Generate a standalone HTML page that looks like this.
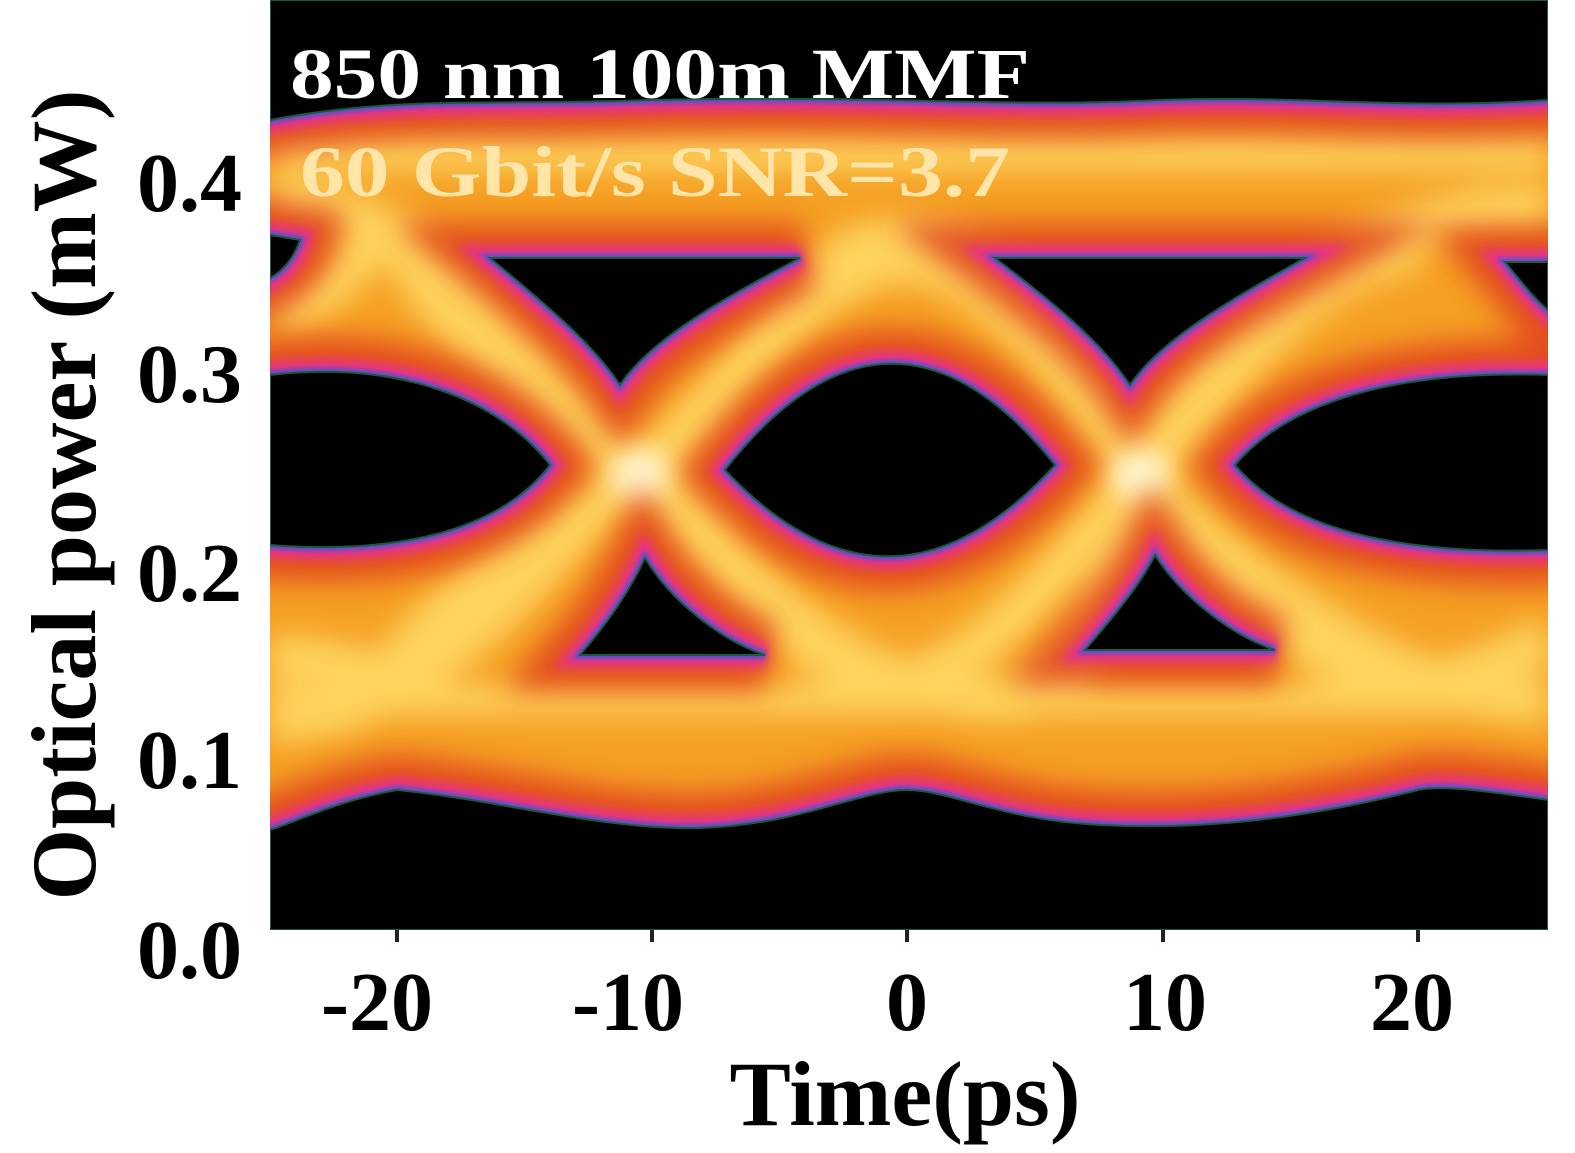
<!DOCTYPE html>
<html><head><meta charset="utf-8"><style>
html,body{margin:0;padding:0;background:#fff;}
svg{display:block;}
text{font-family:"Liberation Serif",serif;font-weight:bold;}
</style></head><body>
<svg width="1575" height="1153" viewBox="0 0 1575 1153" xmlns="http://www.w3.org/2000/svg">
<defs>
<filter id="b1" x="-20%" y="-20%" width="140%" height="140%"><feGaussianBlur stdDeviation="14"/></filter>
<filter id="b2" x="-20%" y="-20%" width="140%" height="140%"><feGaussianBlur stdDeviation="5"/></filter>
<filter id="b3" x="-20%" y="-20%" width="140%" height="140%"><feGaussianBlur stdDeviation="2"/></filter>
<filter id="b4" x="-50%" y="-50%" width="200%" height="200%"><feGaussianBlur stdDeviation="12"/></filter>
<clipPath id="pc"><rect x="270" y="0" width="1278" height="930"/></clipPath>
<g id="shapes">
<path d="M270,0 L1548,0 L1548,100 C1400,110 1300,95 1160,100 C1000,108 900,95 650,100 C500,106 400,95 270,120 Z"/>
<path d="M270,930 L1548,930 L1548,800 C1480,790 1440,785 1418,790 C1300,820 1200,830 1100,825 C1000,820 950,790 907,790 C860,790 800,825 700,828 C600,830 500,800 397,790 C340,800 300,820 270,830 Z"/>
<path d="M725,470 Q890,260 1055,465 Q890,645 725,470 Z"/>
<path d="M550,465 C500,400 400,360 270,375 L270,545 C400,555 500,530 550,465 Z"/>
<path d="M1235,465 C1290,400 1400,370 1548,375 L1548,550 C1400,555 1290,530 1235,465 Z"/>
<path d="M490,258 L800,258 C720,300 650,340 620,385 C590,340 540,300 490,258 Z"/>
<path d="M995,258 L1305,258 C1230,300 1160,340 1130,385 C1100,340 1050,300 995,258 Z"/>
<path d="M645,558 C670,600 720,640 765,655 L580,655 C610,620 630,590 645,558 Z"/>
<path d="M1155,555 C1180,595 1230,635 1275,650 L1085,650 C1115,615 1140,585 1155,555 Z"/>
<path d="M270,235 L300,240 C295,255 285,270 270,278 Z"/>
<path d="M1548,262 L1505,262 C1520,280 1535,300 1548,310 Z"/>
</g>
</defs>
<g clip-path="url(#pc)">
<rect x="270" y="0" width="1278" height="930" fill="#f5a024"/>
<g filter="url(#b1)" stroke="#ffdc68" stroke-width="45" fill="none" opacity="0.85">
<path d="M270,200 C450,200 550,420 640,475 C730,530 800,690 1000,700 C1100,700 1120,560 1140,475 C1220,300 1400,200 1548,210"/>
<path d="M270,720 C450,720 550,530 640,475 C730,420 800,230 907,240 C1050,250 1100,420 1140,475 C1220,560 1400,710 1548,700"/>
<path d="M270,300 C330,330 380,200 400,240 C450,350 560,400 640,475 C720,560 820,690 907,680 C1000,660 1080,540 1140,475 C1220,400 1300,260 1418,250"/>
<path d="M270,660 C330,650 380,690 400,660 C480,560 560,540 640,475 C720,400 820,260 907,260 C1000,270 1080,400 1140,475 C1220,560 1300,680 1418,680 C1480,680 1520,650 1548,640"/>
<path d="M270,150 L1548,150" stroke-width="40"/>
<path d="M270,700 L1548,700" stroke-width="30"/>
</g>
<ellipse cx="640" cy="475" rx="30" ry="28" fill="#fff4c8" filter="url(#b4)"/>
<ellipse cx="1140" cy="475" rx="30" ry="28" fill="#fff4c8" filter="url(#b4)"/>
<use href="#shapes" fill="#e0401c" stroke="#e0401c" stroke-width="70" filter="url(#b1)" opacity="0.85"/>
<use href="#shapes" fill="#e8308a" stroke="#e8308a" stroke-width="24" filter="url(#b2)"/>
<use href="#shapes" fill="#5a50c8" stroke="#5a50c8" stroke-width="8" filter="url(#b3)"/>
<use href="#shapes" fill="#000" stroke="#1a5a40" stroke-width="2"/>
</g>
<g stroke="#222" stroke-width="4">
<line x1="397" y1="930" x2="397" y2="942"/><line x1="652" y1="930" x2="652" y2="942"/>
<line x1="907" y1="930" x2="907" y2="942"/><line x1="1163" y1="930" x2="1163" y2="942"/>
<line x1="1418" y1="930" x2="1418" y2="942"/>
</g>
<text x="290" y="98" font-size="72" fill="#fff" textLength="740" lengthAdjust="spacingAndGlyphs">850 nm 100m MMF</text>
<text x="300" y="196" font-size="72" fill="#ffe6a8" textLength="710" lengthAdjust="spacingAndGlyphs">60 Gbit/s SNR=3.7</text>
<g font-size="84" fill="#000" text-anchor="end">
<text x="242" y="211">0.4</text>
<text x="242" y="402">0.3</text>
<text x="242" y="601">0.2</text>
<text x="242" y="788">0.1</text>
<text x="242" y="978">0.0</text>
</g>
<g font-size="84" fill="#000" text-anchor="middle">
<text x="377" y="1030">-20</text>
<text x="628" y="1030">-10</text>
<text x="907" y="1030">0</text>
<text x="1165" y="1030">10</text>
<text x="1412" y="1030">20</text>
</g>
<text x="905" y="1125" font-size="92" text-anchor="middle" fill="#000">Time(ps)</text>
<text transform="translate(95,495) rotate(-90)" font-size="92" text-anchor="middle" fill="#000">Optical power (mW)</text>
</svg>
</body></html>
